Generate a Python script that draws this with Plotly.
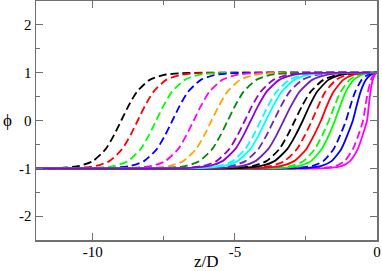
import plotly.graph_objects as go

# phi levels at which each profile's z position was read (plus flat ends)
phi_levels = [-1, -0.99, -0.95, -0.85, -0.6, -0.3, 0, 0.3, 0.6, 0.85, 0.95, 0.99, 1]

# dashed profiles (z positions at the phi levels above, inner 11 values)
z_d_black1 = [-11.12, -10.47, -10.0, -9.55, -9.25, -9.0, -8.75, -8.45, -8.0, -7.53, -6.88]
z_d_red1 = [-10.54, -9.89, -9.42, -8.97, -8.67, -8.42, -8.17, -7.87, -7.42, -6.95, -6.30]
z_d_green1 = [-9.89, -9.24, -8.77, -8.32, -8.02, -7.77, -7.52, -7.22, -6.77, -6.30, -5.65]
z_d_blue1 = [-9.32, -8.67, -8.20, -7.75, -7.45, -7.20, -6.95, -6.65, -6.20, -5.73, -5.08]
z_d_magenta1 = [-8.57, -7.92, -7.45, -7.00, -6.70, -6.45, -6.20, -5.90, -5.45, -4.98, -4.33]
z_d_orange = [-7.94, -7.29, -6.82, -6.37, -6.07, -5.82, -5.57, -5.27, -4.82, -4.35, -3.70]
z_d_dkgreen = [-7.37, -6.72, -6.25, -5.80, -5.50, -5.25, -5.00, -4.70, -4.25, -3.78, -3.13]
z_d_violet = [-6.77, -6.12, -5.65, -5.20, -4.90, -4.65, -4.40, -4.10, -3.65, -3.18, -2.53]
z_d_cyan = [-6.21, -5.56, -5.09, -4.64, -4.34, -4.09, -3.84, -3.54, -3.09, -2.62, -1.97]
z_d_indigo = [-5.75, -5.10, -4.63, -4.18, -3.88, -3.63, -3.38, -3.08, -2.63, -2.16, -1.51]
z_d_black2 = [-5.01, -4.36, -3.89, -3.44, -3.14, -2.89, -2.64, -2.34, -1.89, -1.42, -0.77]
z_d_red2 = [-4.35, -3.72, -3.26, -2.82, -2.53, -2.29, -2.07, -1.82, -1.44, -1.09, -0.64]
z_d_green2 = [-3.60, -3.01, -2.59, -2.19, -1.92, -1.69, -1.50, -1.28, -0.97, -0.69, -0.34]
z_d_blue2 = [-2.79, -2.27, -1.89, -1.53, -1.29, -1.09, -0.94, -0.77, -0.54, -0.34, -0.14]
z_d_magenta2 = [-1.87, -1.44, -1.14, -0.85, -0.65, -0.49, -0.41, -0.32, -0.21, -0.12, -0.04]

# solid profiles
z_s_violet = [-6.56, -5.91, -5.44, -4.99, -4.69, -4.44, -4.19, -3.89, -3.44, -2.97, -2.32]
z_s_cyan = [-6.03, -5.38, -4.91, -4.46, -4.16, -3.91, -3.66, -3.36, -2.91, -2.44, -1.79]
z_s_indigo = [-5.40, -4.75, -4.28, -3.83, -3.53, -3.28, -3.03, -2.73, -2.28, -1.81, -1.16]
z_s_black = [-4.73, -4.08, -3.61, -3.16, -2.86, -2.61, -2.38, -2.11, -1.71, -1.31, -0.81]
z_s_red = [-3.98, -3.37, -2.92, -2.49, -2.21, -1.97, -1.77, -1.53, -1.19, -0.87, -0.47]
z_s_green = [-3.28, -2.73, -2.33, -1.95, -1.69, -1.48, -1.30, -1.10, -0.82, -0.56, -0.28]
z_s_blue = [-2.44, -1.95, -1.60, -1.26, -1.04, -0.85, -0.72, -0.58, -0.39, -0.23, -0.09]
z_s_magenta = [-1.62, -1.23, -0.95, -0.68, -0.50, -0.35, -0.29, -0.23, -0.15, -0.08, -0.03]

x_ticks = [-10, -5, 0]
x_ticklabels = ["-10", "-5", "0"]
y_ticks = [-2, -1, 0, 1, 2]
y_ticklabels = ["-2", "-1", "0", "1", "2"]

z_min, z_max = -12, 0

C_BLACK = "#000000"
C_RED = "#ff0000"
C_GREEN = "#00ff00"
C_BLUE = "#0000ff"
C_MAGENTA = "#ff00ff"
C_ORANGE = "#ffa500"
C_DKGREEN = "#008b00"
C_VIOLET = "#9400d3"
C_CYAN = "#00ffff"
C_INDIGO = "#7221bc"

dashed = [
    (z_d_black1, C_BLACK), (z_d_red1, C_RED), (z_d_green1, C_GREEN),
    (z_d_blue1, C_BLUE), (z_d_magenta1, C_MAGENTA), (z_d_orange, C_ORANGE),
    (z_d_dkgreen, C_DKGREEN), (z_d_violet, C_VIOLET), (z_d_cyan, C_CYAN),
    (z_d_indigo, C_INDIGO), (z_d_black2, C_BLACK), (z_d_red2, C_RED),
    (z_d_green2, C_GREEN), (z_d_blue2, C_BLUE), (z_d_magenta2, C_MAGENTA),
]
solid = [
    (z_s_violet, C_VIOLET), (z_s_cyan, C_CYAN), (z_s_indigo, C_INDIGO),
    (z_s_black, C_BLACK), (z_s_red, C_RED), (z_s_green, C_GREEN),
    (z_s_blue, C_BLUE), (z_s_magenta, C_MAGENTA),
]

fig = go.Figure()

def add(zs, color, dash):
    x = [z_min] + zs + [z_max]
    fig.add_trace(go.Scatter(
        x=x, y=phi_levels, mode="lines",
        line=dict(color=color, width=1.8, dash=dash, shape="spline", smoothing=0.6),
        hoverinfo="skip", showlegend=False, cliponaxis=True))

for zs, c in dashed:
    add(zs, c, "8px,4px")
for zs, c in reversed(solid):
    add(zs, c, "solid")

SERIF = "Liberation Serif"

axis_common = dict(
    showline=True, linecolor="#707070", linewidth=1.5, mirror="ticks",
    ticks="inside", ticklen=7, tickwidth=1, tickcolor="#707070",
    showgrid=False, zeroline=False, automargin=False,
    tickfont=dict(family=SERIF, size=15, color="#000"),
)

fig.update_layout(
    width=382, height=271,
    margin=dict(l=36, r=5, t=1, b=31),
    paper_bgcolor="white", plot_bgcolor="white",
    font=dict(family=SERIF),
    xaxis=dict(range=[-12, 0], tickvals=x_ticks, ticktext=x_ticklabels,
               ticklabelstandoff=-3,
               minor=dict(tickvals=[-7.5, -2.5], ticklen=4, ticks="inside", tickcolor="#707070"),
               **axis_common),
    yaxis=dict(range=[-2.5, 2.5], tickvals=y_ticks, ticktext=y_ticklabels,
               minor=dict(tickvals=[-1.5, -0.5, 0.5, 1.5], ticklen=4, ticks="inside", tickcolor="#707070"),
               **axis_common),
    annotations=[
        dict(text="ϕ", xref="paper", yref="paper", x=-0.084, y=0.5,
             xanchor="center", yanchor="middle", showarrow=False,
             font=dict(family=SERIF, size=17, color="#000")),
        dict(text="z/D", xref="paper", yref="paper", x=0.5, y=-0.092,
             xanchor="center", yanchor="middle", showarrow=False,
             font=dict(family=SERIF, size=17, color="#000")),
    ],
)

fig.write_html(
    "out.html",
    config={"displayModeBar": False, "staticPlot": True},
    post_script="document.body.style.margin='0';document.body.style.overflow='hidden';",
)
